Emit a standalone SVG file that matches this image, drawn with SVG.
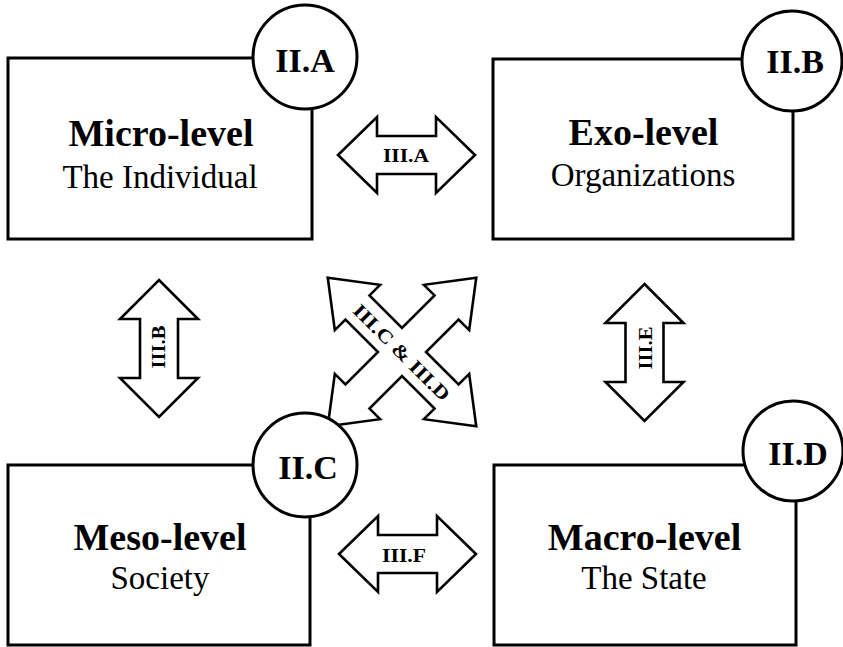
<svg xmlns="http://www.w3.org/2000/svg" width="843" height="647" viewBox="0 0 843 647">
<style>
.box{fill:#fff;stroke:#000;stroke-width:3}
.badge{fill:#fff;stroke:#000;stroke-width:3}
.arrow{fill:#fff;stroke:#000;stroke-width:2.6;stroke-linejoin:miter}
text{font-family:"Liberation Serif","Times New Roman",serif;fill:#000;text-anchor:middle}
.title{font-size:38px;font-weight:bold}
.sub{font-size:33px}
.blabel{font-size:34px;font-weight:bold}
.alabel{font-size:19px;font-weight:bold}
</style>
<defs>
<path id="harrow" d="M-68.5,0 L-29.5,-38 L-29.5,-19 L29.5,-19 L29.5,-38 L68.5,0 L29.5,38 L29.5,19 L-29.5,19 L-29.5,38 Z"/>
<path id="varrow" d="M0,-68.5 L39,-29.5 L19,-29.5 L19,29.5 L39,29.5 L0,68.5 L-39,29.5 L-19,29.5 L-19,-29.5 L-39,-29.5 Z"/>
</defs>
<rect width="843" height="647" fill="#fff"/>

<g id="connectors">
  <g id="arrow-IIIA">
    <use href="#harrow" class="arrow" transform="translate(406.5,155)"/>
    <text class="alabel" x="406" y="162" textLength="46" lengthAdjust="spacingAndGlyphs">III.A</text>
  </g>
  <g id="arrow-IIIB">
    <use href="#varrow" class="arrow" transform="translate(159,348.5)"/>
    <text class="alabel" transform="translate(165,347) rotate(-90)" x="0" y="0" textLength="43" lengthAdjust="spacingAndGlyphs">III.B</text>
  </g>
  <g id="arrow-IIIE">
    <use href="#varrow" class="arrow" transform="translate(644.5,352.5)"/>
    <text class="alabel" transform="translate(652,348) rotate(-90)" x="0" y="0" textLength="43" lengthAdjust="spacingAndGlyphs">III.E</text>
  </g>
  <g id="arrow-IIIF">
    <use href="#harrow" class="arrow" transform="translate(407.5,554)"/>
    <text class="alabel" x="404" y="562" textLength="44" lengthAdjust="spacingAndGlyphs">III.F</text>
  </g>
  <g id="arrow-IIICD">
    <path class="arrow" transform="translate(402,352) rotate(45)" d="M17,-17 L63,-17 L63,-32 L105,0 L63,32 L63,17 L17,17 L17,63 L32,63 L0,105 L-32,63 L-17,63 L-17,17 L-63,17 L-63,32 L-105,0 L-63,-32 L-63,-17 L-17,-17 L-17,-63 L-32,-63 L0,-105 L32,-63 L17,-63 Z"/>
    <text class="alabel" transform="translate(402,352) rotate(45)" x="0" y="7" font-size="20" textLength="128" lengthAdjust="spacingAndGlyphs">III.C &amp; III.D</text>
  </g>
</g>

<g id="node-micro">
  <rect class="box" x="8" y="58" width="304" height="181"/>
  <circle class="badge" cx="305" cy="57" r="52"/>
  <text class="blabel" x="305" y="72">II.A</text>
  <text class="title" x="161" y="146">Micro-level</text>
  <text class="sub" x="160" y="188">The Individual</text>
</g>

<g id="node-exo">
  <rect class="box" x="493" y="59" width="300" height="180"/>
  <circle class="badge" cx="792" cy="61" r="50"/>
  <text class="blabel" x="795" y="73">II.B</text>
  <text class="title" x="643.5" y="145">Exo-level</text>
  <text class="sub" x="643" y="186">Organizations</text>
</g>

<g id="node-meso">
  <rect class="box" x="8" y="465" width="302" height="180"/>
  <circle class="badge" cx="305" cy="465" r="52"/>
  <text class="blabel" x="308" y="479">II.C</text>
  <text class="title" x="160" y="550">Meso-level</text>
  <text class="sub" x="160" y="589">Society</text>
</g>

<g id="node-macro">
  <rect class="box" x="494" y="465" width="302" height="180"/>
  <circle class="badge" cx="793" cy="451" r="50"/>
  <text class="blabel" x="798" y="465">II.D</text>
  <text class="title" x="644.5" y="550">Macro-level</text>
  <text class="sub" x="644" y="589">The State</text>
</g>
</svg>
